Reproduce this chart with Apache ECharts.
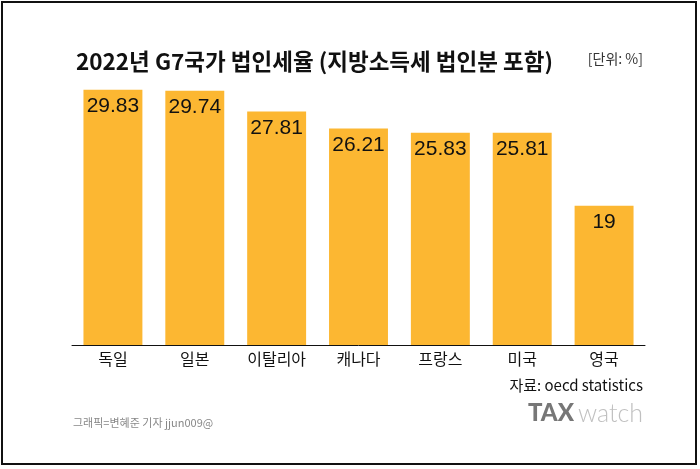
<!DOCTYPE html>
<html>
<head>
<meta charset="utf-8">
<script src="https://cdn.jsdelivr.net/npm/echarts@6/dist/echarts.min.js"></script>
<style>
  html, body { margin: 0; padding: 0; background: #fff; }
  #myChart { width: 700px; height: 469px; }
</style>
</head>
<body>
<div id="myChart"></div>
<script>
// 국가 / 법인세율(%)
var countries = ["독일", "일본", "이탈리아", "캐나다", "프랑스", "미국", "영국"];
var rates = [29.83, 29.74, 27.81, 26.21, 25.83, 25.81, 19];

var KR = '"Noto Sans CJK KR", "Noto Sans", sans-serif';

var myChart = echarts.init(document.getElementById("myChart"));
var option = {
  backgroundColor: "#fff",
  animation: false,
  title: {
    text: "2022년 G7국가 법인세율 (지방소득세 법인분 포함)",
    left: 71,
    top: 45,
    textStyle: { fontFamily: KR, fontSize: 22.5, fontWeight: "bold", color: "#111" }
  },
  grid: { left: 72, right: 55, top: 88, bottom: 124 },
  xAxis: {
    type: "category",
    data: countries,
    axisTick: { show: false },
    axisLine: { lineStyle: { color: "#111", width: 1 } },
    axisLabel: { fontFamily: KR, fontSize: 16, color: "#111", margin: 6 }
  },
  yAxis: {
    type: "value",
    min: 6,
    max: 30,
    show: false,
    splitLine: { show: false }
  },
  series: [
    {
      type: "bar",
      data: rates,
      barCategoryGap: "28%",
      itemStyle: { color: "#FCB732" },
      label: {
        show: true,
        position: "insideTop",
        distance: 6,
        fontFamily: '"Liberation Sans", Arial, sans-serif',
        fontSize: 21,
        color: "#111"
      }
    }
  ],
  graphic: [
    {
      type: "rect",
      shape: { x: 2, y: 2, width: 694, height: 462 },
      style: { fill: null, stroke: "#111", lineWidth: 2 },
      silent: true
    },
    {
      type: "text",
      right: 57,
      top: 52,
      style: { text: "[단위: %]", fontFamily: KR, fontSize: 14, fill: "#333" }
    },
    {
      type: "text",
      right: 57,
      top: 378,
      style: { text: "자료: oecd statistics", fontFamily: KR, fontSize: 15, fill: "#111" }
    },
    {
      type: "text",
      left: 73,
      top: 417,
      style: { text: "그래픽=변혜준 기자 jjun009@", fontFamily: KR, fontSize: 11, fill: "#888" }
    },
    {
      type: "text",
      right: 57,
      top: 401,
      style: {
        text: "{a|TAX}{b|watch}",
        rich: {
          a: { fontFamily: 'Lato, sans-serif', fontSize: 24, fontWeight: 900, fill: "#777" },
          b: { fontFamily: 'Lato, sans-serif', fontSize: 25, fontWeight: 300, fill: "#c0c0c0", padding: [0, 0, 0, 4] }
        }
      }
    }
  ]
};
myChart.setOption(option);
</script>
</body>
</html>
